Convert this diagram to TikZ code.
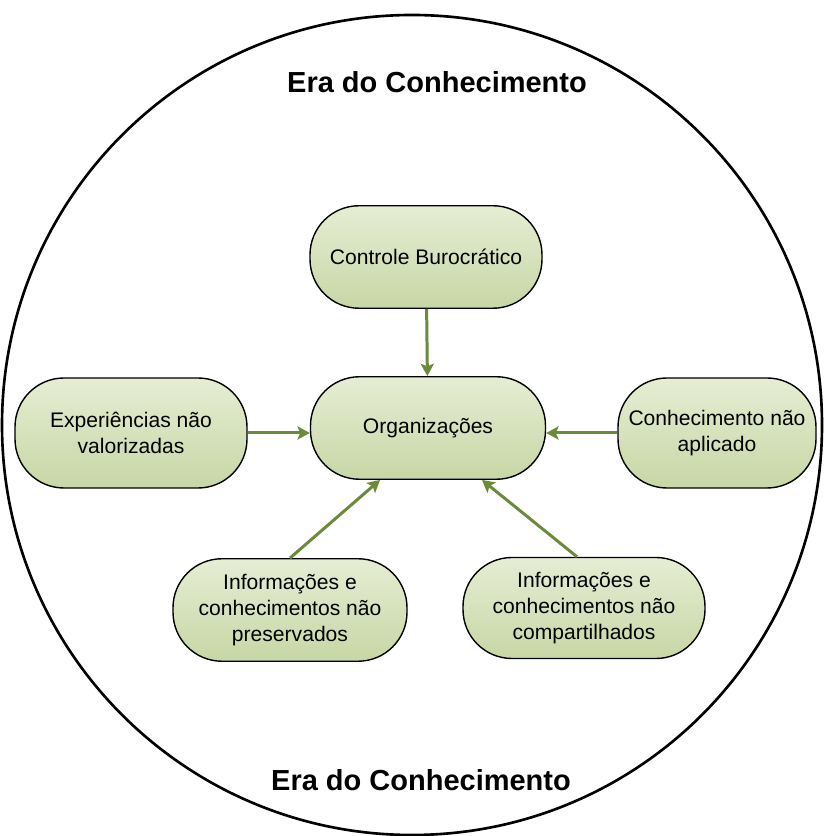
\documentclass[tikz,border=0pt]{standalone}
\usepackage{fontspec}
\setmainfont{Liberation Sans}
\usetikzlibrary{arrows.meta}

\definecolor{boxtop}{HTML}{E6EDD4}
\definecolor{boxmid}{HTML}{F3F6EA}
\definecolor{boxbot}{HTML}{C7D7A5}
\definecolor{arrowgreen}{HTML}{6B8A3A}

\tikzset{
    ideabox/.style={draw=black, line width=0.8pt, rounded corners=0.98cm,
        top color=boxtop, middle color=boxmid, bottom color=boxbot,
        align=center, font=\fontsize{12}{14.8}\selectfont,
        minimum height=2.05cm, inner sep=2pt},
    feed/.style={draw=arrowgreen, line width=1.7pt,
        -{Stealth[length=7pt,width=7.5pt,inset=1.5pt]}},
    eratitle/.style={font=\fontsize{16.5}{18}\selectfont\bfseries}
}

\begin{document}
\begin{tikzpicture}
        \useasboundingbox (0, 0) rectangle (16.48, 16.72);
        \fill[white] (0, 0) rectangle (16.48, 16.72);
        
        \coordinate (O) at (8.24, 8.22);
        \draw[line width=1.5pt] (O) circle (8.2);
        
        \node[eratitle] (top) at (8.74, 15.08) {Era do Conhecimento};
        \node[eratitle] (bottom) at (8.42, 1.12) {Era do Conhecimento};
        
        \node[ideabox, minimum width=4.70cm] (org) at (8.56, 8.16) {Organizações};
        \node[ideabox, minimum width=4.64cm] (ctrl) at (8.52, 11.58) {Controle Burocrático};
        \node[ideabox, minimum width=4.64cm, minimum height=2.2cm] (exp) at (2.62, 8.06) {Experiências não\\valorizadas};
        \node[ideabox, minimum width=3.96cm, minimum height=2.2cm] (apl) at (14.34, 8.06) {Conhecimento não\\aplicado};
        \node[ideabox, minimum width=4.68cm] (pres) at (5.80, 4.52) {Informações e\\conhecimentos não\\preservados};
        \node[ideabox, minimum width=4.84cm, minimum height=2.02cm] (comp) at (11.68, 4.56) {Informações e\\conhecimentos não\\compartilhados};
        
        \draw[feed] (ctrl) -- (org);
        \draw[feed] (exp.east) -- (exp.east -| org.west);
        \draw[feed] (apl.west) -- (apl.west -| org.east);
        \draw[feed] (pres.north) -- ([xshift=-0.96cm]org.south);
        \draw[feed] ([xshift=-0.14cm]comp.north) -- ([xshift=1.08cm]org.south);
    \end{tikzpicture}
\end{document}
